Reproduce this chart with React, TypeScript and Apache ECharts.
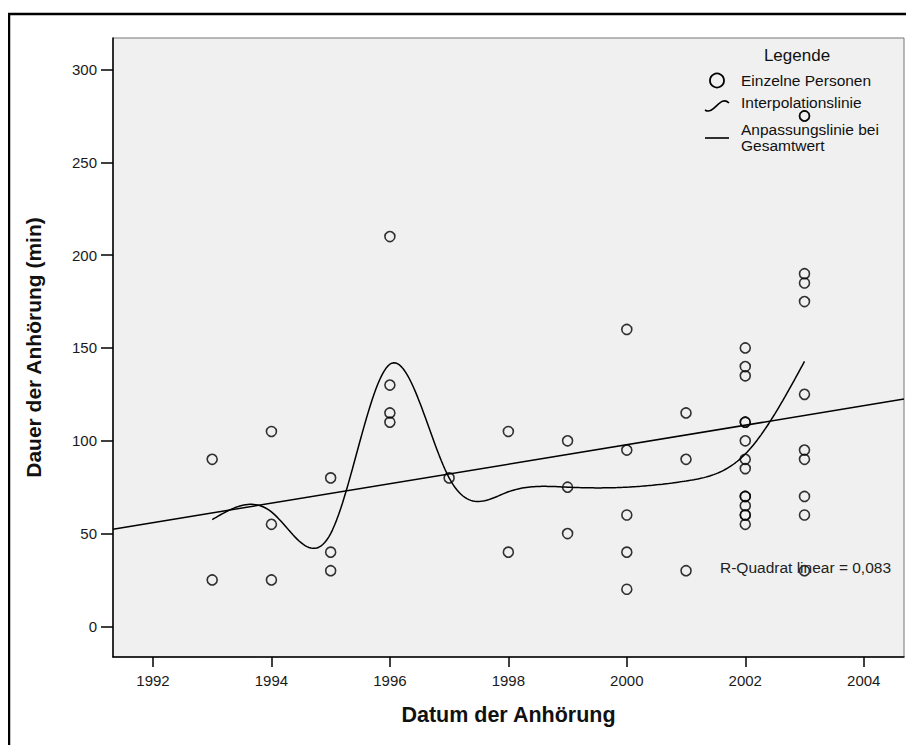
import React, { useEffect, useRef } from "react";
import * as echarts from "echarts";

// ---- Data ----
const years: number[] = [1993, 1994, 1995, 1996, 1997, 1998, 1999, 2000, 2001, 2002, 2003];
const durations: number[][] = [
  [90, 25],
  [105, 55, 25],
  [80, 40, 30],
  [210, 130, 115, 110],
  [80],
  [105, 40],
  [100, 75, 50],
  [160, 95, 60, 40, 20],
  [115, 90, 30],
  [150, 140, 135, 110, 110, 100, 90, 85, 70, 70, 65, 60, 60, 55],
  [275, 275, 190, 185, 175, 125, 95, 90, 70, 60, 30],
];
const xTickValues: number[] = [1992, 1994, 1996, 1998, 2000, 2002, 2004];
const yTickValues: number[] = [0, 50, 100, 150, 200, 250, 300];
const xRange: number[] = [1991.325, 2004.68];
const yRange: number[] = [-16.5, 317];
const rSquaredText = "R-Quadrat linear = 0,083";
const legendTitle = "Legende";
const legendItems: string[] = ["Einzelne Personen", "Interpolationslinie", "Anpassungslinie bei", "Gesamtwert"];
const xAxisTitle = "Datum der Anhörung";
const yAxisTitle = "Dauer der Anhörung (min)";

// ---- Derived statistics ----
function naturalSpline(xs: number[], ys: number[], samplesPerSeg: number): number[][] {
  const n = xs.length;
  const h: number[] = [];
  for (let i = 0; i < n - 1; i++) h.push(xs[i + 1] - xs[i]);
  const alpha: number[] = new Array(n).fill(0);
  for (let i = 1; i < n - 1; i++) {
    alpha[i] = (3 / h[i]) * (ys[i + 1] - ys[i]) - (3 / h[i - 1]) * (ys[i] - ys[i - 1]);
  }
  const l = new Array(n).fill(1);
  const mu = new Array(n).fill(0);
  const z = new Array(n).fill(0);
  for (let i = 1; i < n - 1; i++) {
    l[i] = 2 * (xs[i + 1] - xs[i - 1]) - h[i - 1] * mu[i - 1];
    mu[i] = h[i] / l[i];
    z[i] = (alpha[i] - h[i - 1] * z[i - 1]) / l[i];
  }
  const c = new Array(n).fill(0);
  const b = new Array(n).fill(0);
  const d = new Array(n).fill(0);
  for (let j = n - 2; j >= 0; j--) {
    c[j] = z[j] - mu[j] * c[j + 1];
    b[j] = (ys[j + 1] - ys[j]) / h[j] - (h[j] * (c[j + 1] + 2 * c[j])) / 3;
    d[j] = (c[j + 1] - c[j]) / (3 * h[j]);
  }
  const out: number[][] = [];
  for (let j = 0; j < n - 1; j++) {
    for (let s = 0; s < samplesPerSeg; s++) {
      const t = (h[j] * s) / samplesPerSeg;
      out.push([xs[j] + t, ys[j] + b[j] * t + c[j] * t * t + d[j] * t * t * t]);
    }
  }
  out.push([xs[n - 1], ys[n - 1]]);
  return out;
}

const points: number[][] = [];
years.forEach((yr, i) => durations[i].forEach((v) => points.push([yr, v])));
const means = durations.map((arr) => arr.reduce((a, b) => a + b, 0) / arr.length);
const splinePoints = naturalSpline(years, means, 30);

const n = points.length;
const mx = points.reduce((a, p) => a + p[0], 0) / n;
const my = points.reduce((a, p) => a + p[1], 0) / n;
let sxy = 0;
let sxx = 0;
points.forEach((p) => {
  sxy += (p[0] - mx) * (p[1] - my);
  sxx += (p[0] - mx) * (p[0] - mx);
});
const slope = sxy / sxx;
const fitLine: number[][] = xRange.map((x) => [x, my + slope * (x - mx)]);

const FONT = "'Liberation Sans', Arial, sans-serif";

export default function App() {
  const ref = useRef<HTMLDivElement>(null);
  useEffect(() => {
    if (!ref.current) return;
    const chart = echarts.init(ref.current, undefined, { renderer: "svg" });
    chart.setOption({
      animation: false,
      backgroundColor: "#ffffff",
      textStyle: { fontFamily: FONT },
      grid: {
        left: 105,
        top: 30,
        right: 10,
        bottom: 88,
        show: true,
        backgroundColor: "#F0F0F0",
        borderColor: "#777",
        borderWidth: 1,
      },
      xAxis: {
        type: "value",
        min: xRange[0],
        max: xRange[1],
        name: xAxisTitle,
        nameLocation: "middle",
        nameGap: 47,
        nameTextStyle: { fontFamily: FONT, fontSize: 21.5, fontWeight: "bold", color: "#111" },
        axisLine: { show: true, onZero: false, lineStyle: { color: "#000", width: 1.5 } },
        axisTick: { show: true, length: 10, customValues: xTickValues, lineStyle: { color: "#000", width: 1.5 } },
        axisLabel: {
          customValues: xTickValues,
          margin: 16,
          fontSize: 15,
          color: "#1a1a1a",
          fontFamily: FONT,
          formatter: (v: number) => String(Math.round(v)),
        },
        splitLine: { show: false },
      },
      yAxis: {
        type: "value",
        min: yRange[0],
        max: yRange[1],
        name: yAxisTitle,
        nameLocation: "middle",
        nameGap: 69,
        nameTextStyle: { fontFamily: FONT, fontSize: 21, fontWeight: "bold", color: "#111" },
        axisLine: { show: true, onZero: false, lineStyle: { color: "#000", width: 1.5 } },
        axisTick: { show: true, length: 12, customValues: yTickValues, lineStyle: { color: "#000", width: 1.5 } },
        axisLabel: {
          customValues: yTickValues,
          margin: 16,
          fontSize: 15,
          color: "#1a1a1a",
          fontFamily: FONT,
          formatter: (v: number) => String(Math.round(v)),
        },
        splitLine: { show: false },
      },
      series: [
        {
          type: "line",
          data: fitLine,
          showSymbol: false,
          lineStyle: { color: "#000", width: 1.5 },
          silent: true,
          z: 2,
        },
        {
          type: "line",
          data: splinePoints,
          showSymbol: false,
          smooth: false,
          lineStyle: { color: "#000", width: 1.5 },
          silent: true,
          z: 2,
        },
        {
          type: "scatter",
          data: points,
          symbol: "circle",
          symbolSize: 10,
          itemStyle: { color: "rgba(0,0,0,0)", borderColor: "#000", borderWidth: 1.6 },
          z: 3,
        },
      ],
      graphic: [
        {
          type: "rect",
          shape: { x: 1, y: 6, width: 2000, height: 2000 },
          style: { fill: "none", stroke: "#000", lineWidth: 2.5 },
          silent: true,
          z: 100,
        },
        {
          type: "text",
          x: 789,
          y: 47,
          style: { text: legendTitle, font: `17px ${FONT}`, fill: "#111", align: "center", verticalAlign: "middle" },
          z: 100,
        },
        {
          type: "circle",
          shape: { cx: 709, cy: 72.5, r: 7 },
          style: { fill: "none", stroke: "#000", lineWidth: 1.8 },
          z: 100,
        },
        {
          type: "text",
          x: 733,
          y: 72.5,
          style: { text: legendItems[0], font: `15.5px ${FONT}`, fill: "#111", verticalAlign: "middle" },
          z: 100,
        },
        {
          type: "bezierCurve",
          shape: { x1: 697, y1: 102, cpx1: 706, cpy1: 108, cpx2: 712, cpy2: 86, x2: 721, y2: 95 },
          style: { fill: "none", stroke: "#000", lineWidth: 1.6 },
          z: 100,
        },
        {
          type: "text",
          x: 733,
          y: 94.5,
          style: { text: legendItems[1], font: `15.5px ${FONT}`, fill: "#111", verticalAlign: "middle" },
          z: 100,
        },
        {
          type: "line",
          shape: { x1: 697, y1: 130, x2: 721, y2: 130 },
          style: { stroke: "#000", lineWidth: 1.6 },
          z: 100,
        },
        {
          type: "text",
          x: 733,
          y: 121,
          style: { text: legendItems[2], font: `15.5px ${FONT}`, fill: "#111", verticalAlign: "middle" },
          z: 100,
        },
        {
          type: "text",
          x: 733,
          y: 137,
          style: { text: legendItems[3], font: `15.5px ${FONT}`, fill: "#111", verticalAlign: "middle" },
          z: 100,
        },
        {
          type: "text",
          x: 712,
          y: 559,
          style: { text: rSquaredText, font: `15.5px ${FONT}`, fill: "#222", verticalAlign: "middle" },
          z: 100,
        },
      ],
    });
    return () => chart.dispose();
  }, []);
  return <div ref={ref} style={{ width: 906, height: 737 }} />;
}
